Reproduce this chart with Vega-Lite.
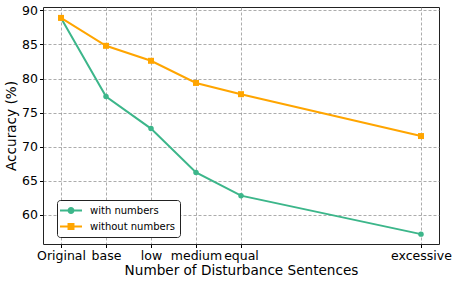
{
  "$schema": "https://vega.github.io/schema/vega-lite/v6.json",
  "width": 396,
  "height": 237,
  "autosize": "none",
  "padding": {"left": 43, "top": 7, "right": 18, "bottom": 40},
  "config": {
    "font": "DejaVu Sans",
    "view": {"stroke": "#222", "strokeWidth": 1},
    "axis": {
      "labelFont": "DejaVu Sans", "labelFontSize": 12.5, "labelColor": "#000",
      "titleFont": "DejaVu Sans", "titleFontSize": 13.6, "titleFontWeight": "normal", "titleColor": "#000",
      "grid": true, "gridColor": "#888", "gridDash": [3, 2], "gridWidth": 0.7, "gridOpacity": 1,
      "domain": false, "tickColor": "#000", "tickSize": 3.5, "labelPadding": 2, "labelOverlap": false
    }
  },
  "data": {"values": [
    {"x": 0, "series": "with numbers", "acc": 88.9},
    {"x": 1, "series": "with numbers", "acc": 77.35},
    {"x": 2, "series": "with numbers", "acc": 72.65},
    {"x": 3, "series": "with numbers", "acc": 66.2},
    {"x": 4, "series": "with numbers", "acc": 62.8},
    {"x": 8, "series": "with numbers", "acc": 57.15},
    {"x": 0, "series": "without numbers", "acc": 88.9},
    {"x": 1, "series": "without numbers", "acc": 84.8},
    {"x": 2, "series": "without numbers", "acc": 82.6},
    {"x": 3, "series": "without numbers", "acc": 79.35},
    {"x": 4, "series": "without numbers", "acc": 77.7},
    {"x": 8, "series": "without numbers", "acc": 71.55}
  ]},
  "encoding": {
    "x": {"field": "x", "type": "quantitative",
      "scale": {"domain": [-0.4, 8.4], "nice": false, "zero": false},
      "axis": {"values": [0, 1, 2, 3, 4, 8], "title": "Number of Disturbance Sentences",
        "labelExpr": "datum.value == 0 ? 'Original' : datum.value == 1 ? 'base' : datum.value == 2 ? 'low' : datum.value == 3 ? 'medium' : datum.value == 4 ? 'equal' : 'excessive'",
        "labelBaseline": "top", "labelAlign": "center",
        "titlePadding": 1}},
    "y": {"field": "acc", "type": "quantitative",
      "scale": {"domain": [55.7, 90.5], "nice": false, "zero": false},
      "axis": {"values": [60, 65, 70, 75, 80, 85, 90], "title": "Accuracy (%)", "titlePadding": 3}},
    "color": {"field": "series", "type": "nominal",
      "scale": {"domain": ["with numbers", "without numbers"], "range": ["#3cb68a", "#ffa500"]},
      "legend": null}
  },
  "layer": [
    {
      "mark": {"type": "line", "strokeWidth": 2},
      "encoding": {
        "color": {"field": "series", "type": "nominal",
          "scale": {"domain": ["with numbers", "without numbers"], "range": ["#3cb68a", "#ffa500"]},
          "legend": {
            "title": null, "orient": "none", "legendX": 14, "legendY": 193,
            "strokeColor": "#222", "fillColor": "white", "cornerRadius": 3, "padding": 4,
            "labelFontSize": 10, "labelColor": "#000", "labelOffset": 16,
            "symbolSize": 121, "rowPadding": 3,
            "encode": {"symbols": {"update": {
              "x": {"value": 10},
              "shape": {"signal": "datum.value == 'with numbers' ? 'M-2,0H2M0.45,0A0.45,0.45,0,1,1,-0.45,0A0.45,0.45,0,1,1,0.45,0Z' : 'M-2,0H2M-0.45,-0.45H0.45V0.45H-0.45Z'"},
              "fill": {"signal": "datum.value == 'with numbers' ? '#3cb68a' : '#ffa500'"},
              "stroke": {"signal": "datum.value == 'with numbers' ? '#3cb68a' : '#ffa500'"},
              "strokeWidth": {"value": 2},
              "fillOpacity": {"value": 1}
            }}}
          }}
      }
    },
    {
      "transform": [{"filter": "datum.series == 'with numbers'"}],
      "mark": {"type": "point", "filled": true, "opacity": 1, "size": 30, "shape": "circle"}
    },
    {
      "transform": [{"filter": "datum.series == 'without numbers'"}],
      "mark": {"type": "point", "filled": true, "opacity": 1, "size": 36, "shape": "square"}
    }
  ]
}
